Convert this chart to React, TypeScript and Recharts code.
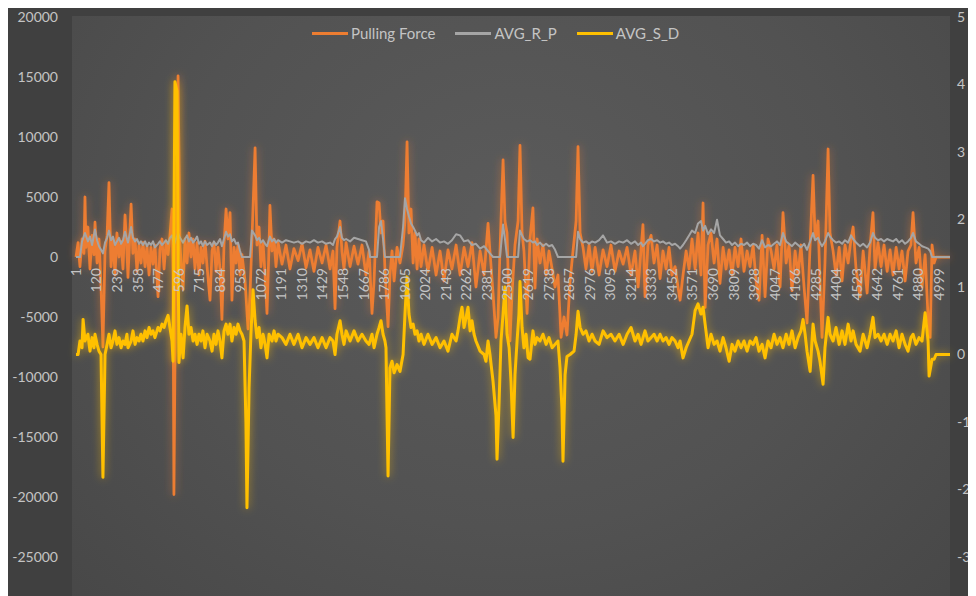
import React from 'react';
import { LineChart, Line, XAxis, YAxis } from 'recharts';

const xTicks = [1, 120, 239, 358, 477, 596, 715, 834, 953, 1072, 1191, 1310, 1429, 1548, 1667, 1786, 1905, 2024, 2143, 2262, 2381, 2500, 2619, 2738, 2857, 2976, 3095, 3214, 3333, 3452, 3571, 3690, 3809, 3928, 4047, 4166, 4285, 4404, 4523, 4642, 4761, 4880, 4999];
const leftTicks = [20000, 15000, 10000, 5000, 0, -5000, -10000, -15000, -20000, -25000];
const rightTicks = [5, 4, 3, 2, 1, 0, -1, -2, -3];
const xDomain: [number, number] = [1, 5062];
const leftDomain: [number, number] = [-25000, 20000];
const rightDomain: [number, number] = [-3, 5];

const seriesNames = ['Pulling Force', 'AVG_R_P', 'AVG_S_D'];
const seriesColors = ['#ED7D31', '#A5A5A5', '#FFC000'];

// [sample index, value]
const pullingForce: [number, number][] = [
  [1, 0], [13, 1200], [24, -800], [36, 1500], [47, 300], [53, 5000], [59, 800], [70, 2500], [82, -1000], [94, 1800],
  [105, 200], [111, 2900], [123, -500], [134, 1500], [146, -2500], [157, -7500], [169, 500], [181, 1800], [192, 6200], [204, -800],
  [215, 1500], [227, -1500], [238, 2000], [250, 0], [262, 1300], [273, -1000], [285, 3500], [296, 500], [302, -1700], [320, 4400],
  [331, 300], [343, 1500], [354, -1200], [366, 1000], [377, -500], [389, 1200], [401, -800], [412, 900], [424, -1500], [435, 800],
  [447, -600], [458, 1000], [476, -3300], [487, 600], [499, 1500], [511, -1000], [522, 1200], [534, 200], [545, 1800], [557, 4000],
  [563, -1500], [568, -19800], [580, 2000], [592, 15100], [603, 1000], [621, -2700], [632, 1500], [644, -500], [655, 2000], [667, 0],
  [679, 1500], [690, -1000], [702, 1200], [713, -1500], [725, 800], [736, -500], [748, 1300], [760, -800], [777, -3600], [789, 500],
  [800, 1200], [812, -1200], [823, 800], [835, -1000], [846, -5200], [858, 1000], [870, 4000], [881, 1500], [893, 3700], [904, -3600],
  [916, 800], [928, -500], [939, 1000], [951, -1500], [962, 200], [980, -2000], [997, -6000], [1009, -3000], [1020, 1500], [1038, 9100],
  [1049, 1000], [1061, 2500], [1072, -800], [1084, 1200], [1096, -1500], [1107, -4700], [1119, 1000], [1124, 4300], [1136, 500], [1148, 1500],
  [1159, -800], [1171, 1200], [1194, -600], [1217, 1000], [1240, -1000], [1263, 700], [1287, -300], [1310, 1100], [1333, -900], [1356, 600],
  [1379, -1200], [1402, 800], [1426, -500], [1449, 1000], [1472, -1000], [1489, 500], [1501, -4300], [1512, 800], [1530, 3000], [1541, 500],
  [1553, -1000], [1565, 1200], [1588, -800], [1611, 900], [1634, -600], [1657, 1000], [1680, -1500], [1698, 500], [1715, -4700], [1727, -2000],
  [1744, 4600], [1756, 4500], [1767, 2000], [1779, 3000], [1790, -1000], [1808, -5800], [1819, -1500], [1831, 500], [1843, -2000], [1860, 800],
  [1877, -500], [1895, 1000], [1906, 3000], [1918, 9600], [1929, 2000], [1941, 4000], [1953, -500], [1964, 2000], [1976, -1000], [1987, 1500],
  [1999, -800], [2016, 1000], [2039, -1200], [2063, 800], [2086, -1500], [2109, 500], [2132, -2000], [2155, 600], [2178, -1000], [2202, 1000],
  [2225, -1500], [2248, 800], [2271, -800], [2294, 1200], [2317, -2500], [2341, 500], [2364, -1500], [2387, 2800], [2398, 500], [2416, -3000],
  [2433, -6700], [2445, -5000], [2456, 500], [2474, 8100], [2485, 3000], [2497, 2000], [2514, -7000], [2526, -3000], [2543, 1000], [2561, 3000],
  [2572, 9300], [2584, 2000], [2595, 500], [2613, -4700], [2630, 1500], [2647, 4100], [2659, -2600], [2671, 1500], [2688, -500], [2705, 1000],
  [2723, -1500], [2740, 500], [2758, -1000], [2775, -2500], [2792, -1500], [2810, -6700], [2827, -5000], [2844, -6500], [2862, -2000], [2879, 500],
  [2897, 3000], [2908, 9200], [2920, 2000], [2937, 800], [2954, -1000], [2972, 1000], [2989, -1200], [3007, 800], [3030, -1500], [3053, 600],
  [3076, -800], [3099, 1000], [3122, -1200], [3146, 500], [3169, -600], [3192, 800], [3215, -1500], [3238, 500], [3256, -2500], [3273, 600],
  [3284, 2700], [3296, -3300], [3313, 1000], [3331, 1800], [3348, -500], [3366, 1000], [3383, -1800], [3400, 500], [3418, -1000], [3435, 800],
  [3452, -1500], [3470, -800], [3487, -2500], [3499, -3600], [3516, -1500], [3534, 500], [3551, -1000], [3568, 1500], [3586, -1000], [3603, 2000],
  [3620, -1500], [3632, 4500], [3644, -4200], [3661, 1000], [3678, 2000], [3696, -500], [3713, 1500], [3730, -2200], [3748, 800], [3765, -1000],
  [3783, 600], [3800, -1500], [3817, 800], [3835, -800], [3852, 1500], [3869, -1200], [3887, 500], [3904, -800], [3922, 1000], [3939, -2000],
  [3956, -3600], [3974, 1800], [3991, -3300], [4008, 1500], [4026, 500], [4043, -1000], [4060, 1000], [4078, -2500], [4095, 3700], [4113, -500],
  [4130, 1000], [4147, -2800], [4165, 500], [4182, -1500], [4199, 1000], [4217, -2500], [4234, -5500], [4252, 1000], [4269, 6800], [4281, 1500],
  [4298, 3000], [4309, -2000], [4321, -6700], [4338, -500], [4356, 9000], [4367, 2000], [4385, 500], [4402, -1500], [4420, 800], [4437, -2000],
  [4454, 1000], [4472, -500], [4489, 1500], [4501, 2500], [4518, -1000], [4541, -3300], [4559, 500], [4582, -3000], [4599, 800], [4616, 3700],
  [4628, -1000], [4645, 1200], [4663, -800], [4680, 1000], [4698, -1200], [4715, 600], [4732, -1500], [4750, 800], [4767, -1000], [4784, 500],
  [4802, -2000], [4819, 500], [4836, 1000], [4848, 3700], [4865, -500], [4883, 800], [4900, -2500], [4918, 200], [4935, -5000], [4947, -6700],
  [4958, 1000], [4970, -500], [4981, 0], [5062, 0],
];

const avgRP: [number, number][] = [
  [1, 0], [24, 0], [36, 1300], [53, 2000], [70, 1300], [82, 1700], [94, 1000], [111, 2300], [123, 1400], [134, 900],
  [146, 600], [157, 300], [169, 1200], [181, 1600], [192, 2200], [204, 1400], [215, 1700], [227, 1000], [238, 1300], [250, 1600],
  [262, 1100], [273, 1400], [285, 2100], [296, 1500], [302, 1200], [320, 2500], [331, 1600], [343, 1300], [354, 1500], [366, 1100],
  [377, 1300], [389, 1000], [401, 1300], [412, 900], [424, 1200], [435, 1000], [447, 1300], [458, 800], [476, 1100], [487, 1300],
  [499, 1000], [511, 1200], [522, 1400], [534, 1100], [545, 1600], [557, 1800], [568, 1000], [580, 1500], [592, 2000], [603, 1600],
  [621, 1200], [632, 1500], [644, 1800], [655, 1300], [667, 1600], [679, 1200], [690, 1400], [702, 1700], [713, 1100], [725, 1300],
  [736, 900], [748, 1300], [760, 1000], [777, 1200], [789, 900], [800, 1300], [812, 1000], [823, 1200], [835, 1500], [846, 900],
  [858, 1500], [870, 2100], [881, 1700], [893, 1900], [904, 1300], [916, 1500], [928, 1100], [939, 1200], [951, 500], [962, 0],
  [1009, 0], [1020, 2200], [1038, 1800], [1049, 1400], [1061, 1600], [1072, 1200], [1084, 1400], [1096, 1100], [1107, 900], [1119, 1500],
  [1124, 1700], [1136, 1300], [1148, 1500], [1159, 1200], [1171, 1400], [1194, 1200], [1217, 1400], [1240, 1300], [1263, 1200], [1287, 1300],
  [1310, 1100], [1333, 1300], [1356, 1200], [1379, 1400], [1402, 1200], [1426, 1300], [1449, 1100], [1472, 1200], [1489, 1000], [1501, 1500],
  [1512, 1700], [1530, 2500], [1541, 1600], [1553, 1400], [1565, 1500], [1588, 1300], [1611, 1600], [1634, 1500], [1657, 1400], [1680, 1300],
  [1698, 600], [1704, 0], [1744, 0], [1756, 2500], [1767, 3000], [1779, 1500], [1790, 0], [1877, 0], [1895, 2500], [1906, 4900],
  [1918, 4000], [1929, 3400], [1941, 2800], [1953, 2500], [1964, 2200], [1976, 1800], [1987, 2000], [1999, 1400], [2016, 1200], [2039, 1600],
  [2063, 1300], [2086, 1500], [2109, 1200], [2132, 1300], [2155, 1100], [2178, 1400], [2202, 1900], [2225, 1800], [2248, 1300], [2271, 1400],
  [2294, 1000], [2317, 1100], [2341, 700], [2364, 900], [2387, 500], [2398, 300], [2416, 0], [2456, 0], [2474, 2700], [2485, 1500],
  [2497, 0], [2561, 0], [2572, 2200], [2584, 1800], [2595, 1500], [2613, 1300], [2630, 1400], [2647, 1200], [2659, 1300], [2671, 1000],
  [2688, 1200], [2705, 900], [2723, 1100], [2740, 900], [2758, 1000], [2775, 600], [2792, 0], [2897, 0], [2908, 2100], [2920, 1500],
  [2937, 1200], [2954, 1300], [2972, 1100], [2989, 1300], [3007, 1200], [3030, 1400], [3053, 1800], [3076, 1200], [3099, 1300], [3122, 1100],
  [3146, 1300], [3169, 1200], [3192, 1400], [3215, 1100], [3238, 1300], [3256, 1000], [3273, 1200], [3284, 900], [3296, 1100], [3313, 1400],
  [3331, 1500], [3348, 1300], [3366, 1400], [3383, 1200], [3400, 1300], [3418, 1100], [3435, 1200], [3452, 1000], [3470, 1100], [3487, 900],
  [3499, 700], [3516, 1000], [3534, 1400], [3551, 1800], [3568, 2200], [3586, 2000], [3603, 2800], [3620, 3000], [3632, 2200], [3644, 2600],
  [3661, 1900], [3678, 2300], [3696, 2000], [3713, 3100], [3730, 1800], [3748, 1500], [3765, 1200], [3783, 1300], [3800, 1000], [3817, 1200],
  [3835, 900], [3852, 1100], [3869, 1000], [3887, 1200], [3904, 900], [3922, 1100], [3939, 1000], [3956, 700], [3974, 1400], [3991, 800],
  [4008, 1000], [4026, 900], [4043, 1100], [4060, 1300], [4078, 1000], [4095, 2000], [4113, 1300], [4130, 1100], [4147, 900], [4165, 1200],
  [4182, 1000], [4199, 800], [4217, 1100], [4234, 600], [4252, 1300], [4269, 2000], [4281, 1400], [4298, 1600], [4309, 1200], [4321, 900],
  [4338, 1300], [4356, 2000], [4367, 1700], [4385, 1400], [4402, 1200], [4420, 1300], [4437, 1100], [4454, 1400], [4472, 1200], [4489, 1800],
  [4501, 1500], [4518, 1200], [4541, 900], [4559, 1100], [4582, 800], [4599, 1200], [4616, 2000], [4628, 1600], [4645, 1400], [4663, 1500],
  [4680, 1300], [4698, 1500], [4715, 1400], [4732, 1300], [4750, 1500], [4767, 1200], [4784, 1400], [4802, 1100], [4819, 1300], [4836, 1600],
  [4848, 2000], [4865, 1300], [4883, 1100], [4900, 900], [4918, 800], [4935, 700], [4947, 500], [4958, 0], [5062, 0],
];

const avgSD: [number, number][] = [
  [1, 0], [13, 0], [24, 0.2], [36, 0.1], [42, 0.52], [53, 0.2], [70, 0.3], [82, 0.05], [94, 0.25], [105, 0.1],
  [111, 0.3], [123, 0.15], [134, 0.05], [146, 0], [157, -1.82], [169, 0], [181, 0.15], [192, 0.3], [204, 0.1], [215, 0.2],
  [227, 0.35], [238, 0.15], [250, 0.25], [262, 0.1], [273, 0.2], [285, 0.15], [296, 0.3], [302, 0.1], [320, 0.2], [331, 0.35],
  [343, 0.15], [354, 0.25], [366, 0.2], [377, 0.3], [389, 0.2], [401, 0.35], [412, 0.25], [424, 0.4], [435, 0.3], [447, 0.35],
  [458, 0.25], [476, 0.4], [487, 0.35], [499, 0.45], [511, 0.4], [522, 0.5], [534, 0.58], [545, 0.4], [557, 0.2], [563, -0.1],
  [574, 4.04], [586, 3.9], [597, -0.12], [609, 0.3], [621, -0.05], [632, 0.4], [644, 0.72], [655, 0.3], [667, 0.4], [679, 0.2],
  [690, 0.3], [702, 0.15], [713, 0.3], [725, 0.2], [736, 0.35], [748, 0.1], [760, 0.3], [777, 0.2], [789, 0.05], [800, 0.3],
  [812, 0.15], [823, 0.35], [835, 0.2], [846, -0.05], [858, 0.35], [870, 0.45], [881, 0.3], [893, 0.45], [904, 0.2], [916, 0.4],
  [928, 0.3], [939, 0.45], [951, 0.35], [962, 0.3], [974, 0.2], [985, -1.0], [991, -2.27], [1003, -0.5], [1014, 0.3], [1026, 0.96],
  [1038, 0.5], [1049, 0.25], [1061, 0.4], [1072, 0.1], [1084, 0.3], [1096, 0.15], [1107, -0.05], [1119, 0.3], [1136, 0.2], [1148, 0.35],
  [1159, 0.2], [1171, 0.3], [1194, 0.25], [1217, 0.15], [1240, 0.3], [1263, 0.15], [1287, 0.3], [1310, 0.1], [1333, 0.25], [1356, 0.15],
  [1379, 0.25], [1402, 0.1], [1426, 0.25], [1449, 0.1], [1472, 0.25], [1489, 0.2], [1501, 0], [1512, 0.3], [1530, 0.5], [1541, 0.3],
  [1553, 0.15], [1565, 0.35], [1588, 0.2], [1611, 0.35], [1634, 0.2], [1657, 0.3], [1680, 0.2], [1698, 0.15], [1715, 0.3], [1727, 0.1],
  [1744, 0.3], [1756, 0.4], [1767, 0.5], [1779, 0.3], [1790, 0.2], [1796, 0.1], [1808, -1.8], [1819, -0.2], [1831, -0.1], [1843, -0.27],
  [1860, -0.15], [1877, -0.25], [1895, 0], [1906, 0.6], [1918, 1.15], [1929, 0.6], [1941, 0.4], [1953, 0.45], [1964, 0.3], [1976, 0.35],
  [1987, 0.2], [1999, 0.3], [2016, 0.15], [2039, 0.3], [2063, 0.15], [2086, 0.25], [2109, 0.1], [2132, 0.2], [2155, 0.05], [2178, 0.3],
  [2202, 0.2], [2213, 0.35], [2225, 0.55], [2236, 0.7], [2248, 0.4], [2260, 0.55], [2271, 0.7], [2283, 0.35], [2294, 0.5], [2306, 0.3],
  [2317, 0.2], [2341, 0.05], [2364, 0], [2375, -0.1], [2387, 0.2], [2398, 0], [2416, -0.4], [2433, -0.9], [2439, -1.55], [2451, -0.7],
  [2462, 0.2], [2474, 0.6], [2485, 1.0], [2497, 0.3], [2509, 0.1], [2520, -0.4], [2532, -1.23], [2543, -0.3], [2555, 0.2], [2566, 0.6],
  [2572, 1.08], [2584, 0.4], [2595, 0.1], [2607, 0.3], [2619, -0.05], [2630, -0.07], [2647, 0.35], [2659, 0.15], [2671, 0.25], [2688, 0.2],
  [2705, 0.3], [2723, 0.15], [2740, 0.25], [2758, 0.1], [2775, 0.15], [2792, 0.2], [2804, -0.2], [2815, -0.8], [2821, -1.58], [2833, -0.3],
  [2844, -0.03], [2862, 0], [2885, 0.05], [2897, 0.3], [2908, 0.64], [2920, 0.4], [2937, 0.3], [2954, 0.35], [2972, 0.2], [2989, 0.3],
  [3007, 0.2], [3030, 0.15], [3053, 0.35], [3076, 0.25], [3099, 0.3], [3122, 0.2], [3146, 0.3], [3169, 0.15], [3192, 0.3], [3215, 0.4],
  [3238, 0.2], [3256, 0.3], [3273, 0.15], [3296, 0.35], [3313, 0.2], [3331, 0.25], [3348, 0.3], [3366, 0.2], [3383, 0.3], [3400, 0.2],
  [3418, 0.25], [3435, 0.15], [3452, 0.25], [3470, 0.2], [3487, 0.1], [3499, 0.2], [3516, -0.05], [3534, 0.1], [3551, 0.2], [3568, 0.3],
  [3586, 0.65], [3603, 0.75], [3620, 0.6], [3632, 0.7], [3644, 0.45], [3661, 0.1], [3678, 0.3], [3696, 0.15], [3713, 0.2], [3730, 0.05],
  [3748, 0.25], [3765, 0.1], [3783, -0.1], [3800, 0.15], [3817, 0.05], [3835, 0.2], [3852, 0.1], [3869, 0.2], [3887, 0.05], [3904, 0.2],
  [3922, 0.15], [3939, 0.25], [3956, 0.05], [3974, 0.15], [3991, -0.05], [4008, 0.2], [4026, 0.1], [4043, 0.3], [4060, 0.15], [4078, 0.25],
  [4095, 0.1], [4113, 0.3], [4130, 0.15], [4147, 0.35], [4165, 0.1], [4182, 0.25], [4199, 0.35], [4211, 0.52], [4223, 0.3], [4234, 0.05],
  [4252, -0.25], [4269, 0.45], [4281, 0.2], [4298, 0.05], [4309, -0.1], [4327, -0.44], [4338, 0.1], [4356, 0.55], [4367, 0.3], [4385, 0.2],
  [4402, 0.4], [4420, 0.15], [4437, 0.35], [4454, 0.15], [4472, 0.45], [4489, 0.2], [4501, 0.35], [4518, 0.15], [4541, 0.05], [4559, 0.3],
  [4582, 0.1], [4599, 0.3], [4616, 0.55], [4628, 0.25], [4645, 0.3], [4663, 0.2], [4680, 0.3], [4698, 0.15], [4715, 0.3], [4732, 0.2],
  [4750, 0.35], [4767, 0.1], [4784, 0.3], [4802, 0.15], [4819, 0.05], [4836, 0.25], [4848, 0.3], [4865, 0.15], [4883, 0.25], [4900, 0.2],
  [4918, 0.62], [4935, 0.2], [4941, -0.32], [4958, -0.07], [4970, -0.07], [4981, 0], [5062, 0],
];

const toRows = (arr: [number, number][]) => arr.map(([i, v]) => ({ i, v }));
const forceRows = toRows(pullingForce);
const rpRows = toRows(avgRP);
const sdRows = toRows(avgSD);

const W = 1000;
const H = 600;
const X_AXIS_H = 1;
const M = { top: 9, right: 8, bottom: 50, left: 8 };
const PLOT_H = H - M.top - M.bottom - X_AXIS_H;
const ZERO_SHIFT = (PLOT_H * (0 - leftDomain[0])) / (leftDomain[1] - leftDomain[0]);
const FONT = 'Lato, "Open Sans", sans-serif';
const TEXT = '#c4c4c4';

function ZeroTick(props: any) {
  const { x, y, payload } = props;
  const ty = y - ZERO_SHIFT + 11;
  return (
    <text
      x={x}
      y={ty}
      transform={`rotate(-90, ${x}, ${ty})`}
      textAnchor="end"
      dy="0.35em"
      fill={TEXT}
      fontSize={14}
      fontFamily={FONT}
    >
      {payload.value}
    </text>
  );
}

export default function App() {
  return (
    <div
      style={{
        position: 'relative',
        width: 968,
        height: 588,
        overflow: 'hidden',
        background: '#404040',
        fontFamily: FONT,
      }}
    >
      <div
        style={{
          position: 'absolute',
          left: 64,
          top: 8,
          width: 878,
          height: 600,
          background: 'radial-gradient(ellipse at 50% 35%, #5b5b5b 0%, #525252 55%, #474747 100%)',
        }}
      />
      <div style={{ position: 'absolute', left: 0, top: 0 }}>
        <LineChart width={W} height={H} margin={M}>
          <defs>
            <filter id="glow" filterUnits="userSpaceOnUse" x="0" y="0" width={W} height={H}>
              <feGaussianBlur in="SourceGraphic" stdDeviation="4" result="blur" />
              <feComponentTransfer in="blur" result="soft">
                <feFuncA type="linear" slope="0.6" />
              </feComponentTransfer>
              <feMerge>
                <feMergeNode in="soft" />
                <feMergeNode in="SourceGraphic" />
              </feMerge>
            </filter>
          </defs>
          <XAxis
            dataKey="i"
            type="number"
            domain={xDomain}
            ticks={xTicks}
            interval={0}
            height={X_AXIS_H}
            axisLine={false}
            tickLine={false}
            tickSize={0}
            tickMargin={0}
            tick={<ZeroTick />}
            allowDuplicatedCategory={false}
          />
          <YAxis
            yAxisId="left"
            domain={leftDomain}
            ticks={leftTicks}
            interval={0}
            width={60}
            axisLine={false}
            tickLine={false}
            tickSize={0}
            tickMargin={18}
            tick={{ fill: TEXT, fontSize: 14, fontFamily: FONT }}
          />
          <YAxis
            yAxisId="right"
            orientation="right"
            domain={rightDomain}
            ticks={rightTicks}
            interval={0}
            width={50}
            axisLine={false}
            tickLine={false}
            tickSize={0}
            tickMargin={7}
            tick={{ fill: TEXT, fontSize: 14, fontFamily: FONT, textAnchor: 'start' }}
          />
          <Line
            yAxisId="left"
            data={forceRows}
            dataKey="v"
            name={seriesNames[0]}
            type="linear"
            stroke={seriesColors[0]}
            strokeWidth={2.75}
            strokeLinejoin="round"
            dot={false}
            activeDot={false}
            isAnimationActive={false}
            filter="url(#glow)"
          />
          <Line
            yAxisId="left"
            data={rpRows}
            dataKey="v"
            name={seriesNames[1]}
            type="linear"
            stroke={seriesColors[1]}
            strokeWidth={2}
            strokeLinejoin="round"
            dot={false}
            activeDot={false}
            isAnimationActive={false}
          />
          <Line
            yAxisId="right"
            data={sdRows}
            dataKey="v"
            name={seriesNames[2]}
            type="linear"
            stroke={seriesColors[2]}
            strokeWidth={3}
            strokeLinejoin="round"
            dot={false}
            activeDot={false}
            isAnimationActive={false}
            filter="url(#glow)"
          />
        </LineChart>
      </div>
      <div
        style={{
          position: 'absolute',
          left: 304,
          top: 17,
          display: 'flex',
          alignItems: 'center',
          height: 16,
          fontSize: 15,
          color: TEXT,
          fontFamily: FONT,
          whiteSpace: 'nowrap',
        }}
      >
        {seriesNames.map((n, k) => (
          <div key={n} style={{ display: 'flex', alignItems: 'center', marginRight: 20 }}>
            <span style={{ display: 'inline-block', width: 36, height: 3, background: seriesColors[k], marginRight: 3 }} />
            <span>{n}</span>
          </div>
        ))}
      </div>
    </div>
  );
}
